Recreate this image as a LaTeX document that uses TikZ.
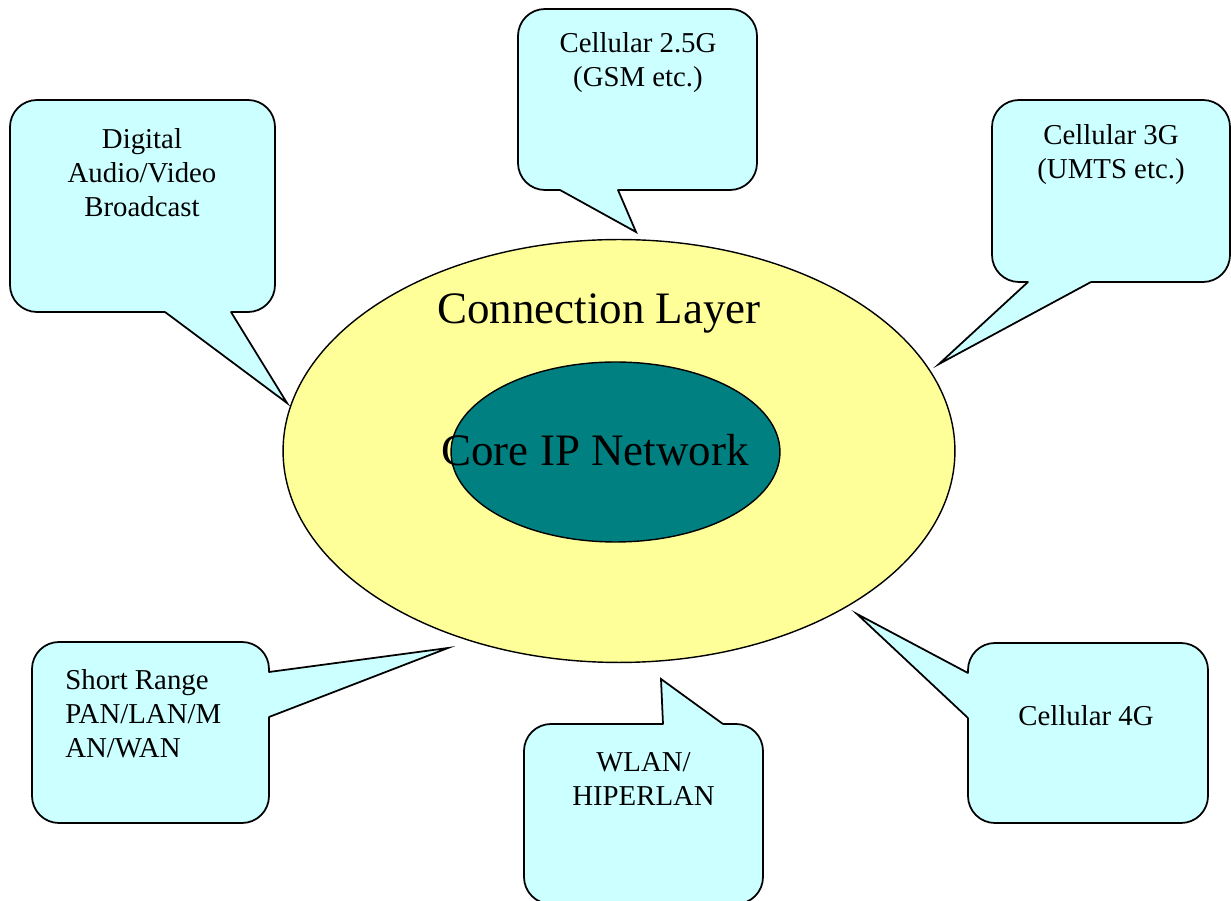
\documentclass[tikz,border=0pt]{standalone}
\usepackage{fontspec}
\setmainfont{Liberation Serif}
\usetikzlibrary{shapes.geometric}
\definecolor{layeryellow}{HTML}{FFFF99}
\definecolor{calloutcyan}{HTML}{CCFFFF}
\definecolor{coreteal}{HTML}{008080}
\begin{document}
\begin{tikzpicture}[x=0.02cm,y=-0.02cm,
  calloutbox/.style={draw=black,fill=calloutcyan,line width=1pt,rounded corners=0.54cm},
  tailfill/.style={fill=calloutcyan},
  tailline/.style={draw=black,line width=1pt,line join=miter,line cap=round},
  lbl/.style={font=\fontsize{16.4}{19.3}\selectfont,align=center,inner sep=0pt},
  bigtext/.style={font=\fontsize{25.6}{30}\selectfont,inner sep=0pt},
  ring/.style={ellipse,draw=black,line width=0.8pt,inner sep=0pt}]
\useasboundingbox (0,0) rectangle (1231,901);

% ellipses
\node[ring,fill=layeryellow,minimum width=13.44cm,minimum height=8.46cm] (layer) at (619,451) {};
\node[ring,fill=coreteal,minimum width=6.58cm,minimum height=3.6cm] (core) at (615.5,452) {};
\node[bigtext] (layertxt) at (599,313) {Connection Layer};
\node[bigtext] (coretxt) at (595,450) {Core IP Network};

% Digital Audio/Video Broadcast
\coordinate (dabA) at (165,312); \coordinate (dabT) at (287,403); \coordinate (dabB) at (231,312);
\draw[calloutbox] (10,100) rectangle (275,312);
\fill[tailfill] (dabA) -- (dabT) -- (dabB) -- (231,306) -- (165,306) -- cycle;
\draw[tailline] (dabA) -- (dabT) -- (dabB);
\node[lbl] (dab) at (142,173) {Digital\\Audio/Video\\Broadcast};

% Cellular 2.5G
\coordinate (gsmA) at (560,190); \coordinate (gsmT) at (636,232); \coordinate (gsmB) at (618,190);
\draw[calloutbox] (518,9) rectangle (757,190);
\fill[tailfill] (gsmA) -- (gsmT) -- (gsmB) -- (618,184) -- (560,184) -- cycle;
\draw[tailline] (gsmA) -- (gsmT) -- (gsmB);
\node[lbl] (gsm) at (638,63) {Cellular 2.5G\\(GSM etc.)};

% Cellular 3G
\coordinate (umtsA) at (1028,282); \coordinate (umtsT) at (939,364); \coordinate (umtsB) at (1091,282);
\draw[calloutbox] (992,100) rectangle (1230,282);
\fill[tailfill] (umtsA) -- (umtsT) -- (umtsB) -- (1091,276) -- (1028,276) -- cycle;
\draw[tailline] (umtsA) -- (umtsT) -- (umtsB);
\node[lbl] (umts) at (1111,155) {Cellular 3G\\(UMTS etc.)};

% Cellular 4G
\coordinate (fgA) at (968,673); \coordinate (fgT) at (857,614); \coordinate (fgB) at (968,718);
\draw[calloutbox] (968,643) rectangle (1208,823);
\fill[tailfill] (fgA) -- (fgT) -- (fgB) -- (974,718) -- (974,673) -- cycle;
\draw[tailline] (fgA) -- (fgT) -- (fgB);
\node[lbl] (fourg) at (1086,716) {Cellular 4G};

% WLAN/HIPERLAN
\coordinate (wlA) at (663,724); \coordinate (wlT) at (661,679); \coordinate (wlB) at (723,724);
\draw[calloutbox] (524,724) rectangle (763,904);
\fill[tailfill] (wlA) -- (wlT) -- (wlB) -- (723,730) -- (663,730) -- cycle;
\draw[tailline] (wlA) -- (wlT) -- (wlB);
\node[lbl] (wlan) at (643.5,779) {WLAN/\\HIPERLAN};

% Short Range
\coordinate (srA) at (269,672); \coordinate (srT) at (448,648); \coordinate (srB) at (269,717);
\draw[calloutbox] (32,642) rectangle (269,823);
\fill[tailfill] (srA) -- (srT) -- (srB) -- (263,717) -- (263,672) -- cycle;
\draw[tailline] (srA) -- (srT) -- (srB);
\node[lbl,align=left,anchor=west] (short) at (65,714) {Short Range\\PAN/LAN/M\\AN/WAN};
\end{tikzpicture}
\end{document}
